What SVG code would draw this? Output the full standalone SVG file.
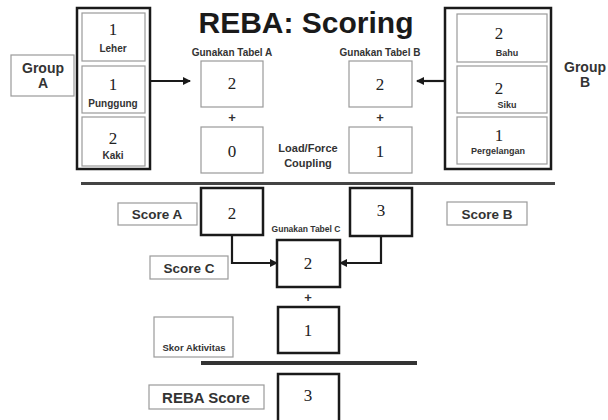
<svg xmlns="http://www.w3.org/2000/svg" width="608" height="420" viewBox="0 0 608 420">
<defs>
<style>
.num{font-family:"Liberation Serif",serif;font-size:17px;fill:#222;text-anchor:middle}
.lbl{font-family:"Liberation Sans",Arial,sans-serif;font-weight:bold;fill:#333;text-anchor:middle}
.thin{fill:#fff;stroke:#9a9a9a;stroke-width:1.2}
.thick{fill:#fff;stroke:#1a1a1a;stroke-width:2.5}
.con{fill:none;stroke:#1a1a1a;stroke-width:2.2}
</style>
<marker id="ah" markerWidth="8" markerHeight="8" refX="7" refY="4" orient="auto" markerUnits="userSpaceOnUse">
<path d="M0,0 L8,4 L0,8 Z" fill="#1a1a1a"/>
</marker>
</defs>
<rect width="608" height="420" fill="#fff"/>
<text x="306" y="33" font-family="Liberation Sans,Arial,sans-serif" font-weight="bold" font-size="30" fill="#1a1a1a" text-anchor="middle">REBA: Scoring</text>

<g id="groupA-label"><rect class="thin" x="11" y="55" width="63" height="41"/><text class="lbl" x="43" y="73" font-size="14">Group</text><text class="lbl" x="43" y="88" font-size="14">A</text></g>
<g id="groupA"><rect class="thick" x="77" y="8" width="73" height="161"/>
<g id="leher"><rect class="thin" x="82" y="13" width="63" height="48"/><text class="num" x="113" y="35">1</text><text class="lbl" x="113" y="52" font-size="10">Leher</text></g>
<g id="punggung"><rect class="thin" x="82" y="66" width="63" height="47"/><text class="num" x="113" y="90">1</text><text class="lbl" x="113" y="107" font-size="10">Punggung</text></g>
<g id="kaki"><rect class="thin" x="82" y="117" width="63" height="49"/><text class="num" x="113" y="144">2</text><text class="lbl" x="113" y="159" font-size="10">Kaki</text></g>
</g>

<g id="tabelA"><text class="lbl" x="232" y="56" font-size="10">Gunakan Tabel A</text><rect class="thin" x="201" y="61" width="62" height="46"/><text class="num" x="232" y="89">2</text></g>
<text class="lbl" x="232" y="122" font-size="13">+</text>
<g id="loadA"><rect class="thin" x="201" y="127" width="62" height="46"/><text class="num" x="232" y="157">0</text></g>
<text class="lbl" x="308" y="152" font-size="11">Load/Force</text>
<text class="lbl" x="308" y="167" font-size="11">Coupling</text>
<g id="tabelB"><text class="lbl" x="380" y="56" font-size="10">Gunakan Tabel B</text><rect class="thin" x="349" y="61" width="63" height="46"/><text class="num" x="380" y="90">2</text></g>
<text class="lbl" x="380" y="122" font-size="13">+</text>
<g id="loadB"><rect class="thin" x="349" y="127" width="63" height="46"/><text class="num" x="380" y="157">1</text></g>

<g id="groupB"><rect class="thick" x="445" y="8" width="106" height="161"/>
<g id="bahu"><rect class="thin" x="457" y="14" width="90" height="48"/><text class="num" x="499" y="39">2</text><text class="lbl" x="507" y="56" font-size="9">Bahu</text></g>
<g id="siku"><rect class="thin" x="457" y="66" width="90" height="47"/><text class="num" x="499" y="94">2</text><text class="lbl" x="507" y="108" font-size="9">Siku</text></g>
<g id="pergelangan"><rect class="thin" x="457" y="117" width="90" height="47"/><text class="num" x="499" y="141">1</text><text class="lbl" x="498" y="154" font-size="9">Pergelangan</text></g>
</g>
<g id="groupB-label"><text class="lbl" x="585" y="72" font-size="14">Group</text><text class="lbl" x="585" y="87" font-size="14">B</text></g>

<line x1="81" y1="183.5" x2="555" y2="183.5" stroke="#444" stroke-width="3"/>

<g id="scoreA-label"><rect class="thin" x="118" y="203" width="79" height="22"/><text class="lbl" x="157" y="219" font-size="13.5">Score A</text></g>
<g id="scoreA"><rect class="thick" x="201" y="188" width="62" height="47"/><text class="num" x="232" y="219">2</text></g>
<text class="lbl" x="306" y="232" font-size="8.5">Gunakan Tabel C</text>
<g id="scoreB"><rect class="thick" x="350" y="188" width="62" height="48"/><text class="num" x="381" y="216">3</text></g>
<g id="scoreB-label"><rect class="thin" x="447" y="202" width="80" height="23"/><text class="lbl" x="487" y="219" font-size="13.5">Score B</text></g>
<g id="scoreC-label"><rect class="thin" x="150" y="256" width="78" height="23"/><text class="lbl" x="189" y="273" font-size="13.5">Score C</text></g>
<g id="scoreC"><rect class="thick" x="277" y="240" width="63" height="47"/><text class="num" x="308" y="269">2</text></g>
<text class="lbl" x="308" y="302" font-size="13">+</text>
<g id="aktivitas"><rect class="thick" x="278" y="307" width="61" height="46"/><text class="num" x="308" y="336">1</text></g>
<g id="aktivitas-label"><rect class="thin" x="154" y="317" width="79" height="40"/><text class="lbl" x="194" y="351" font-size="9.5">Skor Aktivitas</text></g>
<line x1="201" y1="363" x2="417" y2="363" stroke="#333" stroke-width="4"/>
<g id="reba-label"><rect class="thin" x="149" y="385" width="115" height="24"/><text class="lbl" x="206" y="403" font-size="15">REBA Score</text></g>
<g id="reba"><rect class="thick" x="278" y="374" width="61" height="50"/><text class="num" x="308" y="401">3</text></g>

<g id="connectors">
<line class="con" x1="150" y1="81" x2="190" y2="81" marker-end="url(#ah)"/>
<line class="con" x1="445" y1="81" x2="417" y2="81" marker-end="url(#ah)"/>
<polyline class="con" points="232,235 232,263 277,263" marker-end="url(#ah)"/>
<polyline class="con" points="381,236 381,263 340,263" marker-end="url(#ah)"/>
</g>
</svg>
